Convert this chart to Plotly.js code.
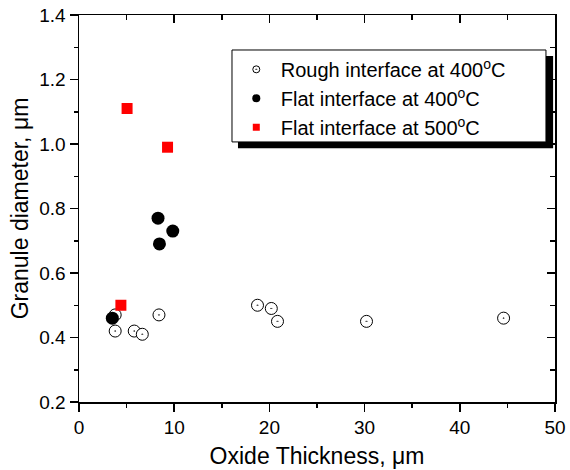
<!DOCTYPE html>
<html>
<head>
<meta charset="utf-8">
<script src="https://cdn.plot.ly/plotly-3.0.1.min.js"></script>
<style>html,body{margin:0;padding:0;background:#fff;}#chart{width:570px;height:470px;}</style>
</head>
<body>
<div id="chart"></div>
<script>
const roughX = [3.8, 3.8, 5.8, 6.65, 8.4, 18.75, 20.2, 20.85, 30.2, 44.6];
const roughY = [0.47, 0.42, 0.42, 0.41, 0.47, 0.50, 0.49, 0.45, 0.45, 0.46];
const flat400X = [8.3, 9.85, 8.45, 3.5];
const flat400Y = [0.77, 0.73, 0.69, 0.46];
const flat500X = [5.05, 9.3, 4.4];
const flat500Y = [1.11, 0.99, 0.50];
const names = ["Rough interface at 400<sup>o</sup>C", "Flat interface at 400<sup>o</sup>C", "Flat interface at 500<sup>o</sup>C"];
const xRange = [0, 50];
const yRange = [0.2, 1.4];

const font = "Liberation Sans, Arial, sans-serif";
const traces = [
  {x: roughX, y: roughY, mode: "markers", type: "scatter", showlegend: false,
   marker: {symbol: "circle-dot", size: 12, color: "#fff", line: {color: "#000", width: 1}}},
  {x: flat400X, y: flat400Y, mode: "markers", type: "scatter", showlegend: false,
   marker: {symbol: "circle", size: 13, color: "#000"}},
  {x: flat500X, y: flat500Y, mode: "markers", type: "scatter", showlegend: false,
   marker: {symbol: "square", size: 11, color: "#ff0000"}},
  {x: [null], y: [null], mode: "markers", type: "scatter", name: names[0],
   marker: {symbol: "circle-dot", size: 7, color: "#fff", line: {color: "#000", width: 1}}},
  {x: [null], y: [null], mode: "markers", type: "scatter", name: names[1],
   marker: {symbol: "circle", size: 8, color: "#000"}},
  {x: [null], y: [null], mode: "markers", type: "scatter", name: names[2],
   marker: {symbol: "square", size: 7, color: "#ff0000"}}
];

const axBase = {showgrid: false, zeroline: false, showline: true, linecolor: "#000", linewidth: 1.5,
  tickcolor: "#000", tickwidth: 1.5};

const layout = {
  width: 570, height: 470,
  margin: {l: 79, r: 15, t: 15, b: 68},
  paper_bgcolor: "#fff", plot_bgcolor: "#fff",
  font: {family: font, color: "#000", size: 18},
  showlegend: true,
  legend: {x: 0.321, y: 0.91, xanchor: "left", yanchor: "top", bgcolor: "rgba(0,0,0,0)",
    borderwidth: 0, font: {family: font, size: 20, color: "#000"},
    tracegroupgap: 0, itemwidth: 39},
  xaxis: Object.assign({}, axBase, {range: xRange, dtick: 10, ticks: "outside", ticklen: 8,
    minor: {dtick: 5, ticks: "outside", ticklen: 4, tickcolor: "#000", tickwidth: 1.5},
    tickfont: {size: 19}, title: {text: "Oxide Thickness, μm", font: {size: 23}, standoff: 10}}),
  yaxis: Object.assign({}, axBase, {range: yRange, dtick: 0.2, tickformat: ".1f", ticks: "outside", ticklen: 8,
    minor: {dtick: 0.1, ticks: "outside", ticklen: 4, tickcolor: "#000", tickwidth: 1.5},
    tickfont: {size: 19}, title: {text: "Granule diameter, μm", font: {size: 23}, standoff: 4}}),
  xaxis2: Object.assign({}, axBase, {range: xRange, dtick: 10, overlaying: "x", side: "top", anchor: "y",
    ticks: "inside", ticklen: 8, showticklabels: false,
    minor: {dtick: 5, ticks: "inside", ticklen: 5, tickcolor: "#000", tickwidth: 1.5}}),
  yaxis2: Object.assign({}, axBase, {range: yRange, dtick: 0.2, overlaying: "y", side: "right", anchor: "x",
    ticks: "inside", ticklen: 8, showticklabels: false,
    minor: {dtick: 0.1, ticks: "inside", ticklen: 5, tickcolor: "#000", tickwidth: 1.5}}),
  shapes: [
    {type: "rect", xref: "paper", yref: "paper", x0: 0.334, x1: 0.996, y0: 0.656, y1: 0.894,
     fillcolor: "#000", line: {width: 0}, layer: "above"},
    {type: "rect", xref: "paper", yref: "paper", x0: 0.3214, x1: 0.981, y0: 0.672, y1: 0.9096,
     fillcolor: "#fff", line: {width: 1, color: "#000"}, layer: "above"}
  ]
};
traces.push({x: [null], y: [null], xaxis: "x2", yaxis: "y2", showlegend: false, mode: "markers"});

Plotly.newPlot("chart", traces, layout, {staticPlot: true});
</script>
</body>
</html>
